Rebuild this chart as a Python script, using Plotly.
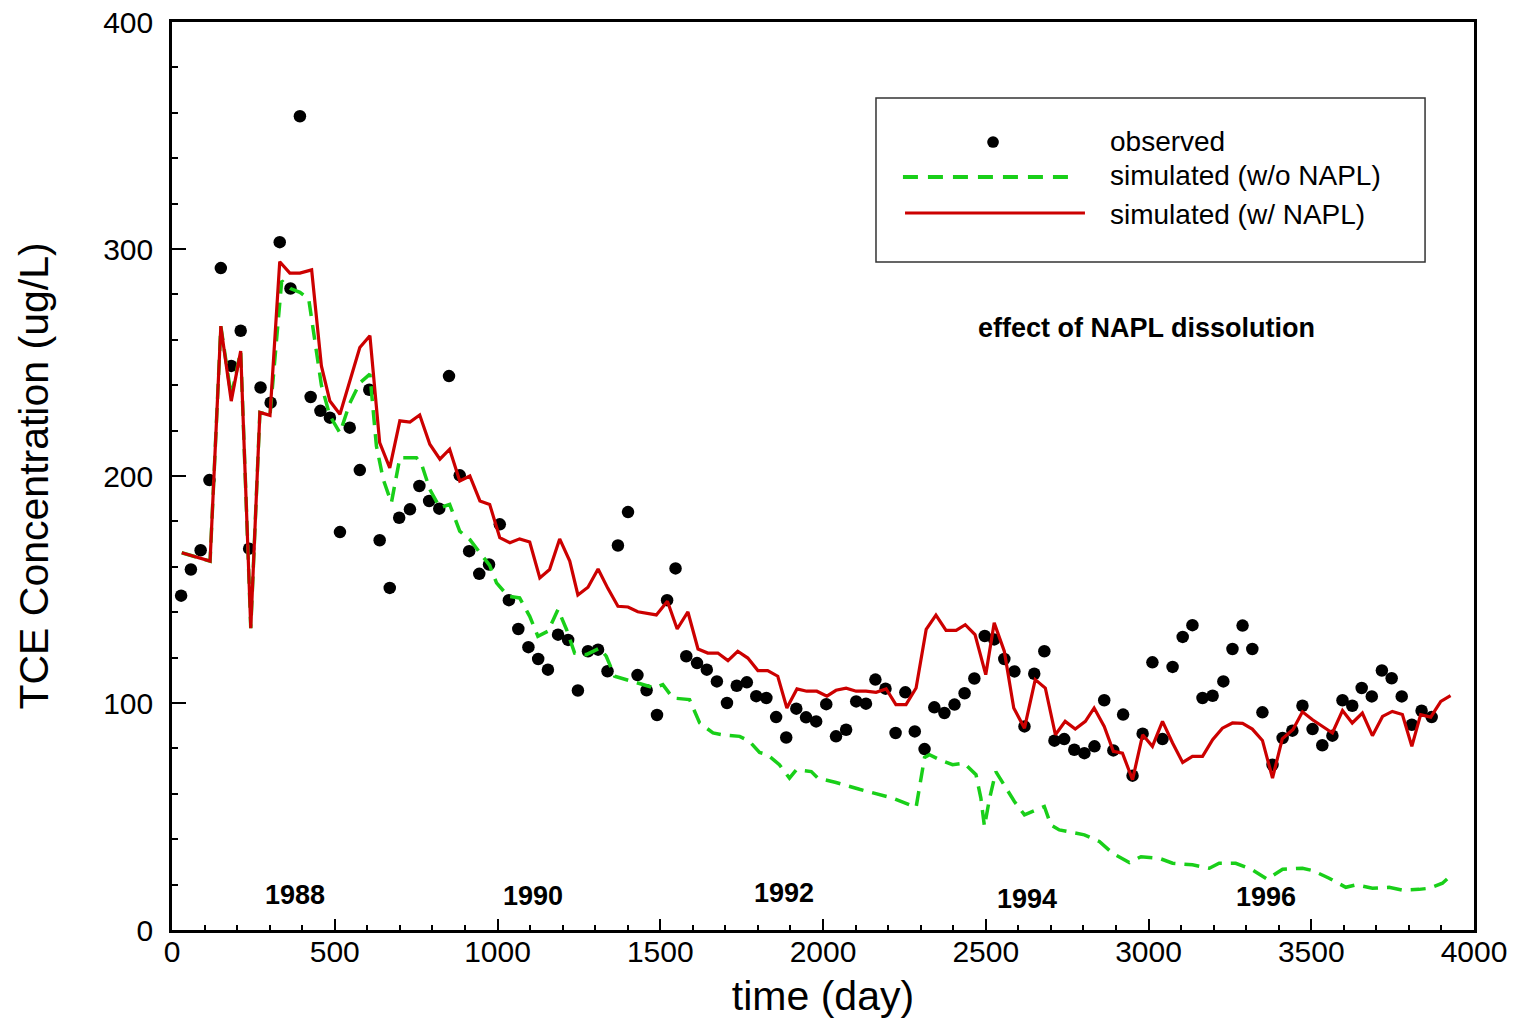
import plotly.graph_objects as go

RED = "#CC0000"
GREEN = "#19CF19"
BLACK = "#000000"
FONT = "Liberation Sans, Arial, sans-serif"

# observed TCE concentration (day, ug/L)
obs_day = [
    28, 58, 88, 115, 150, 182, 211, 237, 272, 303, 331, 364, 393, 426, 456,
    485, 516, 546, 577, 606, 638, 669, 698, 731, 760, 790, 821, 851, 884, 913,
    944, 974, 1007, 1035, 1064, 1095, 1125, 1155, 1186, 1217, 1247, 1278, 1309,
    1338, 1370, 1401, 1430, 1458, 1490, 1521, 1547, 1580, 1613, 1643, 1674,
    1705, 1735, 1766, 1795, 1826, 1856, 1887, 1918, 1948, 1979, 2010, 2040,
    2071, 2102, 2132, 2161, 2192, 2223, 2253, 2282, 2312, 2342, 2373, 2404,
    2435, 2465, 2497, 2526, 2557, 2588, 2619, 2649, 2680, 2711, 2741, 2772,
    2803, 2834, 2864, 2892, 2922, 2951, 2982, 3012, 3043, 3074, 3105, 3135,
    3166, 3197, 3230, 3258, 3289, 3319, 3350, 3381, 3412, 3442, 3473, 3504,
    3534, 3565, 3596, 3626, 3655, 3686, 3717, 3747, 3778, 3809, 3839, 3870,
]
obs_conc = [
    147.3, 158.8, 167.3, 198.2, 291.6, 248.5, 264, 168, 239, 232.3, 303, 282.6,
    358.5, 234.8, 228.7, 225.7, 175.3, 221.3, 202.6, 238, 171.7, 150.7, 181.6,
    185.3, 195.6, 189, 185.6, 244, 200.3, 166.9, 156.9, 161, 178.7, 145.3,
    132.6, 124.6, 119.4, 114.7, 130.1, 127.8, 105.5, 122.8, 123.5, 114, 169.4,
    184.1, 112.3, 105.6, 94.7, 145.3, 159.3, 120.6, 117.6, 114.7, 109.5, 100,
    107.6, 109.1, 103, 102.2, 93.8, 84.8, 97.5, 93.7, 91.9, 99.5, 85.3, 88.2,
    100.7, 99.7, 110.3, 106.3, 86.8, 104.7, 87.5, 79.7, 98.1, 95.6, 99.3,
    104.3, 110.8, 129.5, 128, 119.4, 113.9, 89.7, 112.9, 122.8, 83.4, 84.1,
    79.4, 77.9, 80.9, 101.2, 79.1, 94.9, 68, 86.5, 117.9, 84.1, 115.9, 129.1,
    134.3, 102.2, 103.2, 109.5, 123.8, 134.1, 123.8, 95.9, 72.8, 84.6, 87.8,
    98.8, 88.5, 81.4, 85.6, 101.2, 98.8, 106.6, 102.9, 114.3, 110.9, 102.9,
    90.4, 96.6, 93.8,
]

# simulated without NAPL
sim_day = [
    30, 117, 150, 182, 211, 242, 270, 301, 337, 364, 393, 420, 459, 485, 516,
    546, 577, 608, 628, 649, 674, 700, 751, 767, 792, 823, 853, 884, 915, 956,
    976, 997, 1033, 1068, 1099, 1124, 1155, 1186, 1212, 1237, 1273, 1314, 1334,
    1360, 1416, 1483, 1508, 1539, 1590, 1621, 1662, 1692, 1744, 1774, 1805,
    1830, 1866, 1897, 1918, 1964, 1984, 2040, 2112, 2173, 2214, 2286, 2312,
    2327, 2358, 2398, 2434, 2470, 2485, 2496, 2511, 2531, 2573, 2588, 2619,
    2680, 2700, 2726, 2803, 2849, 2890, 2941, 2977, 3033, 3074, 3135, 3187,
    3217, 3268, 3319, 3365, 3412, 3473, 3504, 3555, 3606, 3637, 3688, 3739,
    3780, 3831, 3862, 3903, 3928,
]
sim_conc = [
    166.2, 162.5, 266, 235, 255, 133, 228, 226.7, 286, 282.6, 280.9, 278, 240,
    226.5, 219, 232, 241, 244.9, 213.2, 198.5, 188.2, 208, 208, 205.1, 194.1,
    186, 187.5, 175.7, 172, 164, 160.6, 152.9, 147, 146.3, 138.2, 129.4, 131.6,
    141.2, 132.4, 122, 121.3, 124.2, 120.6, 111.8, 109.5, 106.6, 108.1, 102.2,
    101.5, 91.2, 86.8, 86, 85.3, 83.1, 78.2, 77.2, 72.8, 66.9, 70.6, 69.8,
    66.9, 65, 62, 59.6, 58.1, 54, 76, 77.2, 75, 72.8, 73.5, 68.4, 58.1, 45.6,
    57.4, 69.8, 60.3, 56.6, 50.7, 54.4, 46.3, 44.1, 41.9, 39, 33.8, 29.7,
    32.3, 31.6, 29.4, 28.7, 27.2, 29.4, 29.4, 26.5, 22.4, 26.8, 27.2, 26.2,
    22.8, 18.8, 19.9, 18.4, 18.8, 17.6, 17.9, 18.4, 20.6, 23.8,
]

# simulated with NAPL dissolution
napl_day = [
    30, 117, 150, 182, 211, 242, 270, 301, 331, 362, 393, 429, 459, 485, 516,
    577, 608, 638, 669, 700, 731, 761, 792, 823, 853, 884, 915, 946, 976, 1007,
    1038, 1068, 1099, 1130, 1160, 1191, 1222, 1247, 1278, 1309, 1339, 1370,
    1401, 1431, 1488, 1522, 1552, 1585, 1616, 1646, 1677, 1708, 1738, 1769,
    1800, 1830, 1861, 1889, 1920, 1950, 1981, 2012, 2040, 2071, 2102, 2132,
    2163, 2194, 2224, 2255, 2286, 2317, 2347, 2378, 2409, 2437, 2467, 2500,
    2526, 2557, 2586, 2619, 2652, 2683, 2714, 2744, 2775, 2806, 2833, 2864,
    2892, 2920, 2951, 2982, 3012, 3043, 3074, 3105, 3135, 3166, 3197, 3227,
    3258, 3289, 3319, 3350, 3381, 3411, 3444, 3473, 3504, 3534, 3565, 3596,
    3626, 3657, 3688, 3719, 3749, 3780, 3809, 3836, 3867, 3898, 3928,
]
napl_conc = [
    166.2, 162.5, 266, 233, 255, 133, 228, 226.7, 294.4, 289.4, 289.4, 290.8,
    248.5, 233, 227.2, 256.6, 261.8, 214.7, 203.6, 224.3, 223.8, 226.9, 214,
    207.4, 211.8, 197.8, 200, 189, 187.5, 172.8, 170.6, 172.3, 170.9, 155.1,
    158.8, 172.3, 162.5, 147.6, 151, 159, 150.5, 142.6, 142.3, 140.2, 138.8,
    144.8, 132.6, 140.1, 123.8, 122, 122, 118.7, 122.8, 119.8, 114.3, 114.3,
    111.8, 97.8, 106.2, 105.2, 105.2, 103, 105.6, 106.5, 105.2, 105.2, 104.7,
    106.2, 99.3, 99.3, 106.6, 132.4, 138.7, 132, 132, 134.5, 130.1, 112.5,
    135.3, 122.8, 97.8, 88.9, 110.3, 106.6, 86, 91.9, 88.5, 91.9, 97.8, 89.7,
    78.7, 77.9, 66.2, 86, 80.9, 91.9, 82.4, 73.8, 76.5, 76.5, 83.8, 88.9,
    91.2, 91, 88.5, 83.5, 66.9, 84.2, 88.3, 96.1, 92.6, 89.7, 86.8, 96.7,
    91.2, 95.6, 85.6, 94.1, 96.3, 94.9, 80.9, 94.9, 93.8, 100.7, 103.2,
]

year_labels = ["1988", "1990", "1992", "1994", "1996"]
year_day = [378, 1108, 1879, 2628, 3361]
year_conc = [15.4, 15.0, 16.3, 13.7, 14.6]

fig = go.Figure()
fig.add_trace(go.Scatter(
    x=obs_day, y=obs_conc, mode="markers", name="observed",
    marker=dict(color=BLACK, size=12.5),
))
fig.add_trace(go.Scatter(
    x=sim_day, y=sim_conc, mode="lines", name="simulated (w/o NAPL)",
    line=dict(color=GREEN, width=3.5, dash="15px,9px"),
))
fig.add_trace(go.Scatter(
    x=napl_day, y=napl_conc, mode="lines", name="simulated (w/ NAPL)",
    line=dict(color=RED, width=3.2),
))

for label, xd, yd in zip(year_labels, year_day, year_conc):
    fig.add_annotation(
        x=xd, y=yd, text="<b>%s</b>" % label, showarrow=False,
        xanchor="center", yanchor="middle",
        font=dict(size=27, color=BLACK),
    )

fig.add_annotation(
    x=0.7488, y=0.663, xref="paper", yref="paper",
    text="<b>effect of NAPL dissolution</b>", showarrow=False,
    xanchor="center", yanchor="middle",
    font=dict(size=27, color=BLACK),
)

# hand-drawn legend box, like the original
fig.add_shape(
    type="rect", xref="paper", yref="paper",
    x0=0.5407, x1=0.9624, y0=0.7357, y1=0.9163,
    line=dict(color="#333333", width=1.5), fillcolor="white",
)
fig.add_shape(
    type="circle", xref="paper", yref="paper",
    x0=0.6306 - 0.0045, x1=0.6306 + 0.0045,
    y0=0.8678 - 0.0064, y1=0.8678 + 0.0064,
    line=dict(color=BLACK, width=0), fillcolor=BLACK,
)
fig.add_shape(
    type="line", xref="paper", yref="paper",
    x0=0.5614, x1=0.6951, y0=0.8293, y1=0.8293,
    line=dict(color=GREEN, width=4, dash="15px,10px"),
)
fig.add_shape(
    type="line", xref="paper", yref="paper",
    x0=0.5630, x1=0.7012, y0=0.7896, y1=0.7896,
    line=dict(color=RED, width=3),
)
for text, yy in [("observed", 0.8689),
                 ("simulated (w/o NAPL)", 0.8304),
                 ("simulated (w/ NAPL)", 0.7885)]:
    fig.add_annotation(
        x=0.7189, y=yy, xref="paper", yref="paper", text=text,
        showarrow=False, xanchor="left", yanchor="middle",
        font=dict(size=28, color=BLACK),
    )

fig.update_xaxes(
    range=[0, 4000], dtick=500, ticks="inside", ticklen=11, tickwidth=2,
    tickcolor=BLACK, showline=True, linecolor=BLACK, linewidth=2.5,
    mirror=True, showgrid=False, zeroline=False, automargin=False,
    minor=dict(dtick=100, ticks="inside", ticklen=5, tickwidth=1.5,
               tickcolor=BLACK, showgrid=False),
    tickfont=dict(size=30, color=BLACK), ticklabelstandoff=-7,
    ticklabeloverflow="allow",
    title=dict(text="time (day)", font=dict(size=41, color=BLACK),
               standoff=25),
)
fig.update_yaxes(
    range=[0, 400], dtick=100, ticks="inside", ticklen=14, tickwidth=2,
    tickcolor=BLACK, showline=True, linecolor=BLACK, linewidth=2.5,
    mirror=True, showgrid=False, zeroline=False, automargin=False,
    minor=dict(dtick=20, ticks="inside", ticklen=6, tickwidth=1.5,
               tickcolor=BLACK, showgrid=False),
    tickfont=dict(size=30, color=BLACK), ticklabelstandoff=10,
    ticklabeloverflow="allow",
    title=dict(text="TCE Concentration (ug/L)",
               font=dict(size=41, color=BLACK), standoff=42),
)
# the page adds an 8px body margin, so the figure is drawn 16px smaller
fig.update_layout(
    width=1504, height=1011,
    margin=dict(l=164, r=38, t=14, b=89),
    font_family=FONT,
    plot_bgcolor="white",
    paper_bgcolor="white",
    showlegend=False,
)

fig.write_html("out.html")
